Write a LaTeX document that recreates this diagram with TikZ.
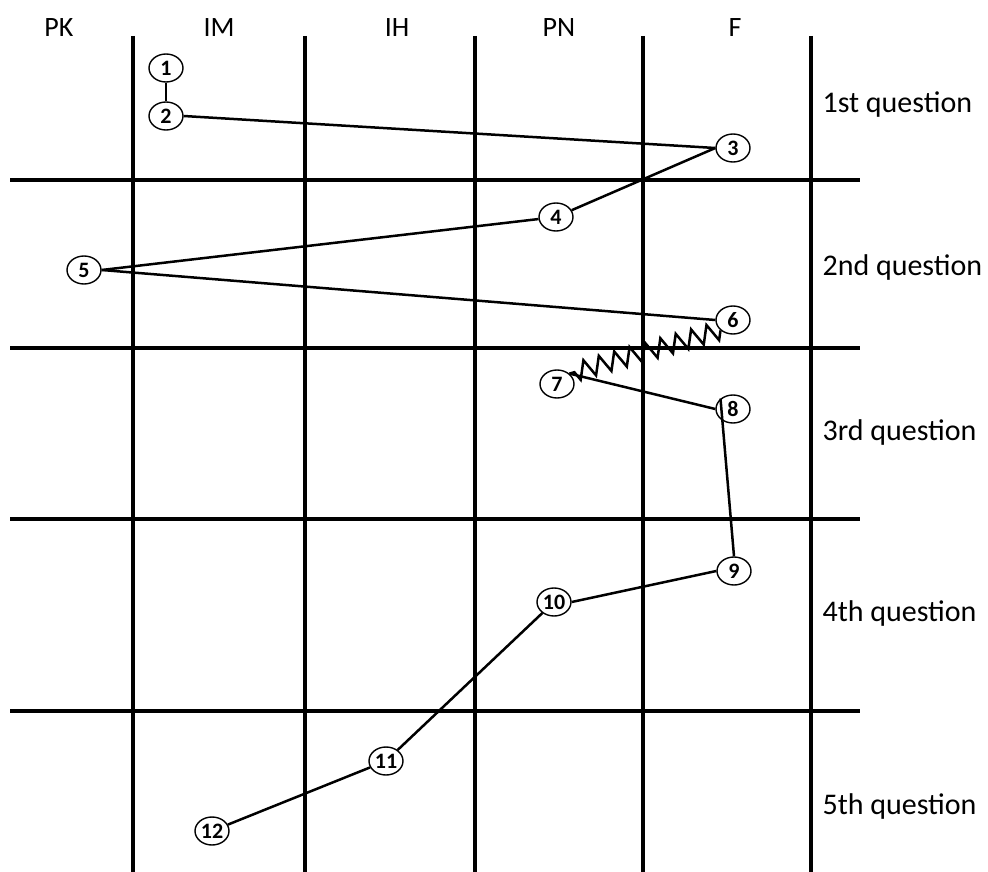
\documentclass[tikz,border=0pt]{standalone}
\usepackage{fontspec}
\setmainfont{Carlito}
\usepackage{tikz}
\usetikzlibrary{shapes.geometric,decorations.pathmorphing}
\definecolor{traitNoir}{RGB}{0,0,0}

\tikzset{
  etape/.style={ellipse, draw=traitNoir, line width=1.4pt, inner sep=0pt,
                minimum width=34pt, minimum height=28pt,
                font=\fontsize{22}{22}\selectfont\bfseries},
  grille/.style={traitNoir, line width=3.8pt},
  lien/.style={traitNoir, line width=2.5pt},
  titreCol/.style={font=\fontsize{28}{28}\selectfont},
  titreLigne/.style={font=\fontsize{30}{30}\selectfont, anchor=west}
}

\begin{document}
\begin{tikzpicture}[x=1pt, y=-1pt]
\useasboundingbox (0,0) rectangle (988,872);

% colonnes
\draw[grille] (133,36) -- (133,872);
\draw[grille] (305,36) -- (305,872);
\draw[grille] (475,36) -- (475,872);
\draw[grille] (643,36) -- (643,872);
\draw[grille] (811,36) -- (811,872);

% lignes
\draw[grille] (10,180) -- (860,180);
\draw[grille] (10,348) -- (860,348);
\draw[grille] (10,519) -- (860,519);
\draw[grille] (10,711) -- (860,711);

\node[titreCol] (pk) at (59,28) {PK};
\node[titreCol] (im) at (219,28) {IM};
\node[titreCol] (ih) at (397,28) {IH};
\node[titreCol] (pn) at (559,28) {PN};
\node[titreCol] (f) at (735,28) {F};

\node[titreLigne] (q1) at (819,105) {1st question};
\node[titreLigne] (q2) at (819,268) {2nd question};
\node[titreLigne] (q3) at (819,432) {3rd question};
\node[titreLigne] (q4) at (819,613) {4th question};
\node[titreLigne] (q5) at (819,806) {5th question};

\node[etape] (n1) at (166,68) {1};
\node[etape] (n2) at (166,116) {2};
\node[etape] (n3) at (733,148) {3};
\node[etape] (n4) at (556,217) {4};
\node[etape] (n5) at (84,270) {5};
\node[etape] (n6) at (733,320) {6};
\node[etape] (n7) at (557,384) {7};
\node[etape] (n8) at (733,409) {8};
\node[etape] (n9) at (734,571) {9};
\node[etape] (n10) at (554,602) {10};
\node[etape] (n11) at (386,761) {11};
\node[etape] (n12) at (212,831) {12};

\draw[lien] (n1) -- (n2);
\draw[lien] (n2.east) -- (n3.west);
\draw[lien] (n3.west) -- (n4);
\draw[lien] (n4) -- (n5.east);
\draw[lien] (n5.east) -- (n6.west);
\draw[lien, decorate, decoration={zigzag, segment length=16pt, amplitude=9pt}]
  (n6.south west) -- (n7.north east);
\draw[lien] (n7.north east) -- (n8.west);
\draw[lien] (n8.north west) -- (n9.north);
\draw[lien] (n9.west) -- (n10.east);
\draw[lien] (n10) -- (n11);
\draw[lien] (n11) -- (n12);

\end{tikzpicture}
\end{document}
